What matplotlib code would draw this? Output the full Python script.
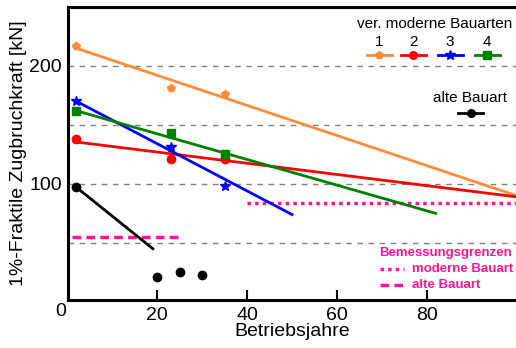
import matplotlib
matplotlib.use("Agg")
import matplotlib.pyplot as plt
import numpy as np

plt.rcParams['font.family'] = ['Liberation Sans', 'DejaVu Sans']

# Data
s1_x = [2, 23, 35]; s1_y = [217, 181, 176]
s2_x = [2, 23, 35]; s2_y = [138, 121, 121]
s3_x = [2, 23, 35]; s3_y = [170, 131, 98]
s4_x = [2, 23, 35]; s4_y = [162, 143, 125]
old_x = [2, 20, 25, 30]; old_y = [97, 21, 25, 22.5]

fit1_x = [2, 100]; fit1_y = [215, 90]
fit2_x = [2, 100]; fit2_y = [135.5, 89]
fit3_x = [2, 50]; fit3_y = [170, 74]
fit4_x = [2, 82]; fit4_y = [162, 75]
fitold_x = [2, 19]; fitold_y = [97, 45]

lim_mod_x = [40, 100]; lim_mod_y = [84, 84]
lim_old_x = [1, 25]; lim_old_y = [55, 55]

grid_y = [50, 100, 150, 200]

c1 = '#ff8c3a'; c2 = '#ff0000'; c3 = '#0000ff'; c4 = '#008000'; cm = '#ff1493'

W, H = 516, 348
fig = plt.figure(figsize=(W/100, H/100), dpi=100)
ax = fig.add_axes([67.5/W, (H-300)/H, (516.5-67.5)/W, (300-7)/H])
ax.set_xlim(0, 100)
ax.set_ylim(1.5, 250)

for g in grid_y:
    ax.axhline(g, color='#808080', lw=1, ls=(0, (4, 4)), zorder=1)

lw = 2
ax.plot(fit1_x, fit1_y, color=c1, lw=lw, zorder=3)
ax.plot(fit2_x, fit2_y, color=c2, lw=lw, zorder=3)
ax.plot(fit3_x, fit3_y, color=c3, lw=lw, zorder=3)
ax.plot(fit4_x, fit4_y, color=c4, lw=lw, zorder=3)
ax.plot(fitold_x, fitold_y, color='black', lw=lw, zorder=3)

ax.plot(s1_x, s1_y, 'p', color=c1, ms=6, zorder=4)
ax.plot(s2_x, s2_y, 'o', color=c2, ms=6, zorder=4)
ax.plot(s3_x, s3_y, '*', color=c3, ms=7.5, zorder=4)
ax.plot(s4_x, s4_y, 's', color=c4, ms=6, zorder=4)
ax.plot(old_x, old_y, 'o', color='black', ms=6, zorder=4)

ax.plot(lim_mod_x, lim_mod_y, color=cm, lw=2.5, ls=(0, (1, 1.2)), zorder=2)
ax.plot(lim_old_x, lim_old_y, color=cm, lw=2.5, ls=(0, (2.5, 1.5)), zorder=2)

for side in ['left', 'bottom', 'top']:
    ax.spines[side].set_linewidth(2.2)
ax.spines['right'].set_visible(False)

ax.set_xticks([20, 40, 60, 80])
ax.set_yticks([100, 200])
ax.tick_params(axis='x', direction='in', length=7, width=1.5, labelsize=14, pad=5)
ax.tick_params(axis='y', length=0, labelsize=14, pad=4)
ax.set_xlabel('Betriebsjahre', fontsize=14, labelpad=-1)
ax.set_ylabel('1%-Fraktile Zugbruchkraft [kN]', fontsize=14, labelpad=2)

def fx(px):
    return px / W
def fy(py):
    return (H - py) / H

fig.text(fx(61), fy(311), '0', fontsize=14, ha='center', va='center')

# legend: modern
fig.text(fx(512), fy(24), 'ver. moderne Bauarten', fontsize=11, ha='right', va='center')
leg = [('1', c1, 'p', 5.5, 379), ('2', c2, 'o', 5.5, 413), ('3', c3, '*', 7, 450), ('4', c4, 's', 5.5, 487)]
for lab, col, mk, ms, cx in leg:
    fig.text(fx(cx), fy(42), lab, fontsize=11, ha='center', va='center')
    fig.add_artist(plt.Line2D([fx(cx-12.5), fx(cx+12.5)], [fy(55), fy(55)], color=col, lw=2,
                              transform=fig.transFigure))
    fig.add_artist(plt.Line2D([fx(cx)], [fy(55)], marker=mk, color=col, ms=ms, ls='none',
                              transform=fig.transFigure))

fig.text(fx(470), fy(98), 'alte Bauart', fontsize=11, ha='center', va='center')
fig.add_artist(plt.Line2D([fx(458), fx(483)], [fy(113), fy(113)], color='black', lw=2,
                          transform=fig.transFigure))
fig.add_artist(plt.Line2D([fx(470.5)], [fy(113)], marker='o', color='black', ms=5.5, ls='none',
                          transform=fig.transFigure))

# legend: limits
fig.text(fx(512), fy(253), 'Bemessungsgrenzen', fontsize=9.5, ha='right', va='center',
         color=cm, fontweight='bold')
fig.text(fx(412), fy(269), 'moderne Bauart', fontsize=9.5, ha='left', va='center',
         color=cm, fontweight='bold')
fig.text(fx(412), fy(285), 'alte Bauart', fontsize=9.5, ha='left', va='center',
         color=cm, fontweight='bold')
fig.add_artist(plt.Line2D([fx(380), fx(404)], [fy(269), fy(269)], color=cm, lw=2.5,
                          ls=(0, (1, 1.2)), transform=fig.transFigure))
fig.add_artist(plt.Line2D([fx(380), fx(404)], [fy(285), fy(285)], color=cm, lw=2.5,
                          ls=(0, (2.5, 1.5)), transform=fig.transFigure))

fig.savefig('out.png', dpi=100)
